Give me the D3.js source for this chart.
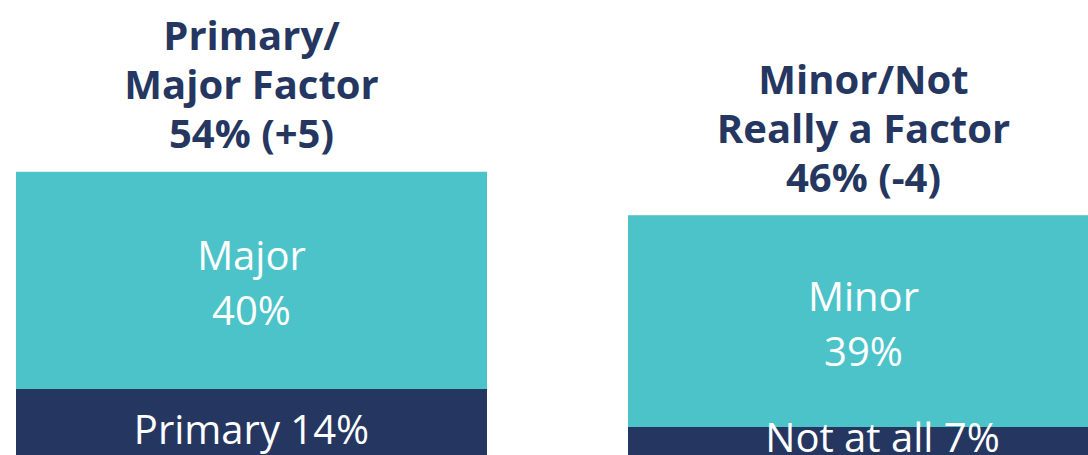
<!DOCTYPE html>
<html>
<head>
<meta charset="utf-8">
<script src="https://cdn.jsdelivr.net/npm/d3@7"></script>
<style>
  html, body { margin: 0; padding: 0; background: #fff; overflow: hidden; }
  svg { display: block; }
</style>
</head>
<body>
<div id="chart"></div>
<script>
// groups and their stacked segments (bottom segment first)
const groups = ["Primary/Major Factor", "Minor/Not Really a Factor"];
const titleLines = [
  ["Primary/", "Major Factor", "54% (+5)"],
  ["Minor/Not", "Really a Factor", "46% (-4)"]
];
const bottomValues = [14, 7];
const topValues = [40, 39];
const bottomLabels = [["Primary 14%"], ["Not at all 7%"]];
const topLabels = [["Major", "40%"], ["Minor", "39%"]];

const width = 1088, height = 455;
const navy = "#253760", teal = "#4cc3c9";
const fontFam = "'Open Sans', 'Noto Sans', sans-serif";

const svg = d3.select("#chart").append("svg")
  .attr("width", width)
  .attr("height", height);

// bars run past the right and bottom edges, as in the cropped original
const x = d3.scaleBand().domain(groups).range([16, 1099]).paddingInner(0.2304).paddingOuter(0);
const y = d3.scaleLinear().domain([0, 100]).range([465, -78]);

const rows = groups.map((g, i) => ({
  g, i,
  segs: [
    // the squeezed bottom label on the right bar sits a little off-centre in the original
    { v0: 0, v1: bottomValues[i], fill: navy, lines: bottomLabels[i], bottom: true, dx: i === 1 ? 19 : 0 },
    { v0: bottomValues[i], v1: bottomValues[i] + topValues[i], fill: teal, lines: topLabels[i], dx: 0 }
  ]
}));

const grp = svg.selectAll("g.bar").data(rows).join("g").attr("class", "bar");

grp.selectAll("rect").data(d => d.segs.map(s => ({ ...s, g: d.g })))
  .join("rect")
  .attr("x", d => x(d.g))
  .attr("width", x.bandwidth())
  .attr("y", d => y(d.v1))
  .attr("height", d => y(d.v0) - y(d.v1))
  .attr("fill", d => d.fill);

// segment labels
grp.each(function (d) {
  const g = d3.select(this);
  const cx = x(d.g) + x.bandwidth() / 2;
  d.segs.forEach(s => {
    const mid = (y(s.v0) + y(s.v1)) / 2;
    const lh = 55;
    let base = mid + 17 - (s.lines.length - 1) * lh / 2;
    if (s.bottom) base = Math.min(base, y(s.v0) - 13);
    const t = g.append("text")
      .attr("text-anchor", "middle")
      .attr("fill", "#fff")
      .style("font-family", fontFam)
      .style("font-size", "40px")
      .style("font-weight", 400);
    s.lines.forEach((ln, k) => {
      t.append("tspan").attr("x", cx + s.dx).attr("y", base + k * lh).text(ln);
    });
  });

  // group title above the bar
  const top = y(d.segs[1].v1);
  const lines = titleLines[d.i];
  const t = g.append("text")
    .attr("text-anchor", "middle")
    .attr("fill", navy)
    .style("font-family", fontFam)
    .style("font-size", "40px")
    .style("font-weight", 700);
  lines.forEach((ln, k) => {
    t.append("tspan").attr("x", cx)
      .attr("y", top - 23.5 - (lines.length - 1 - k) * 49)
      .text(ln);
  });
});
</script>
</body>
</html>
